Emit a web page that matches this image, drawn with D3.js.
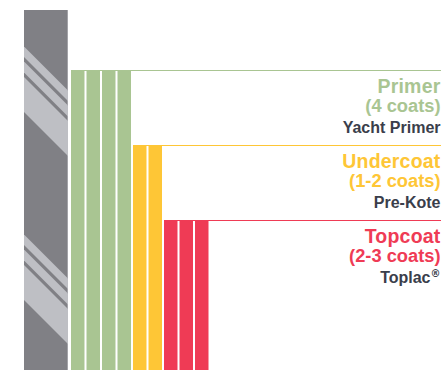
<!DOCTYPE html>
<html><head><meta charset="utf-8">
<script src="https://cdn.jsdelivr.net/npm/d3@7"></script>
<style>html,body{margin:0;padding:0;background:#fff;}svg{display:block;}</style>
</head><body>
<svg id="chart" width="443" height="373"></svg>
<script>
// ---- data ----
const layers = ["Primer", "Undercoat", "Topcoat"];
const coatRanges = ["(4 coats)", "(1-2 coats)", "(2-3 coats)"];
const products = ["Yacht Primer", "Pre-Kote", "Toplac"];
const productMarks = ["", "", "\u00AE\uFE0E"];
const coatCounts = [4, 2, 3];
const buildLevels = [4, 3, 2];
const layerColors = ["#a9c592", "#fec636", "#ef3b55"];

// ---- build coats table ----
const coats = [];
layers.forEach((l, i) => { for (let k = 0; k < coatCounts[i]; k++) coats.push({layer: i, id: l + k}); });

const svg = d3.select("#chart");
const x = d3.scaleBand().domain(coats.map(d => d.id)).range([71, 208.5]).paddingInner(0.13).paddingOuter(0);
const y = d3.scaleLinear().domain([0, 4]).range([370, 70]);

// hull
const hull = {x0: 24, x1: 68, y0: 10, y1: 370};
svg.append("defs").append("clipPath").attr("id", "hullClip")
  .append("rect").attr("x", hull.x0).attr("y", hull.y0).attr("width", hull.x1 - hull.x0).attr("height", hull.y1 - hull.y0);
svg.append("rect").attr("x", hull.x0).attr("y", hull.y0).attr("width", hull.x1 - hull.x0).attr("height", hull.y1 - hull.y0).attr("fill", "#808085");
svg.append("rect").attr("x", hull.x1 - 1).attr("y", hull.y0).attr("width", 1).attr("height", hull.y1 - hull.y0).attr("fill", "#a3a3a8");
const stripeG = svg.append("g").attr("clip-path", "url(#hullClip)");
const bandStarts = [46.5, 234.5];
const bandOffsets = [[0, 10.6], [15, 26], [30.6, 65.6]];
bandStarts.forEach(s => bandOffsets.forEach(([a, b]) => {
  const w = hull.x1 - hull.x0 + 4;
  const p = [[hull.x0 - 2, s + a - 2], [hull.x0 - 2 + w, s + a - 2 + w], [hull.x0 - 2 + w, s + b - 2 + w], [hull.x0 - 2, s + b - 2]];
  stripeG.append("path").attr("d", d3.line()(p) + "Z").attr("fill", "#bebfc4");
}));

// layer top lines
layers.forEach((l, i) => {
  const first = coats.find(c => c.layer === i);
  svg.append("line").attr("x1", x(first.id)).attr("x2", 441)
    .attr("y1", y(buildLevels[i]) + 0.5).attr("y2", y(buildLevels[i]) + 0.5)
    .attr("stroke", layerColors[i]).attr("stroke-width", 1.2);
});

// coat bars
svg.append("g").selectAll("rect").data(coats).join("rect")
  .attr("x", d => x(d.id)).attr("width", x.bandwidth())
  .attr("y", d => y(buildLevels[d.layer]))
  .attr("height", d => y(0) - y(buildLevels[d.layer]))
  .attr("fill", d => layerColors[d.layer]);

// labels
const tg = svg.append("g").attr("text-anchor", "end").attr("font-family", "Liberation Sans, Arial, sans-serif").attr("font-weight", "bold");
layers.forEach((l, i) => {
  const top = y(buildLevels[i]);
  tg.append("text").attr("x", 440.5).attr("y", top + 22.5).text(l)
    .attr("fill", layerColors[i]).attr("font-size", 19.5).attr("letter-spacing", 0.2);
  tg.append("text").attr("x", 440.5).attr("y", top + 42).text(coatRanges[i])
    .attr("fill", layerColors[i]).attr("font-size", 18.3);
  const t = tg.append("text").attr("x", 440.5).attr("y", top + 63)
    .attr("fill", "#3a3e4b").attr("font-size", 16);
  t.append("tspan").attr("fill", "#3a3e4b").text(products[i]);
  if (productMarks[i]) t.append("tspan").attr("fill", "#3a3e4b").attr("font-family", "DejaVu Sans, sans-serif")
    .attr("font-size", 10).attr("dy", -6).text(productMarks[i]);
});
</script>
</body></html>
